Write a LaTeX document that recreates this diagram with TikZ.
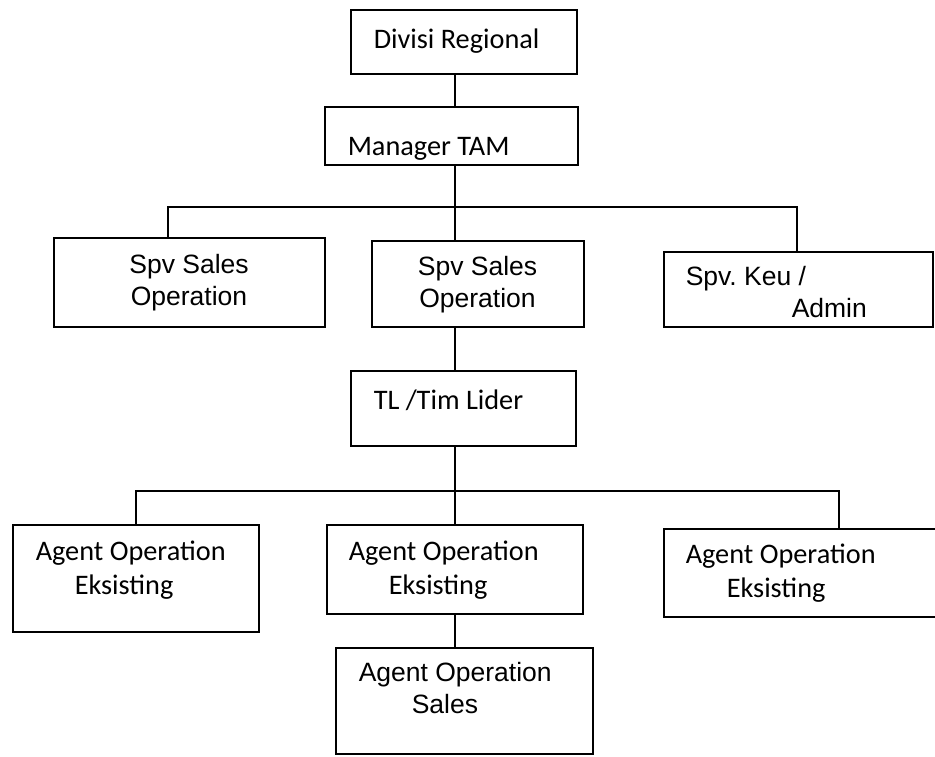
\documentclass[tikz,border=0pt]{standalone}
\usepackage{fontspec}
\newfontfamily\calibri{Carlito}
\newfontfamily\arial{Liberation Sans}
\usetikzlibrary{positioning}

\begin{document}
\begin{tikzpicture}[x=1pt, y=-1pt, line width=1.5pt,
  box/.style={draw, rectangle, inner sep=0pt},
  cal/.style={font=\calibri\fontsize{28.3}{33.5}\selectfont, inner sep=0pt, align=left, anchor=base west},
  ari/.style={font=\arial\fontsize{26.5}{32}\selectfont, inner sep=0pt, align=left, anchor=base west}]
\useasboundingbox (0,0) rectangle (935,756);
% ---------------- boxes ----------------
\node[box, minimum width=226pt, minimum height=64pt] (div) at (464,42) {};
\node[box, minimum width=253pt, minimum height=58pt] (mgr) at (451.5,136) {};
\node[box, minimum width=271pt, minimum height=89pt] (spvA) at (189.5,282.5) {};
\node[box, minimum width=212pt, minimum height=86pt] (spvB) at (478,284) {};
\node[box, minimum width=269pt, minimum height=75pt] (keu) at (798.5,289.5) {};
\node[box, minimum width=225pt, minimum height=75pt] (tl) at (463.5,408.5) {};
\node[box, minimum width=246pt, minimum height=107pt] (agA) at (136,578.5) {};
\node[box, minimum width=256pt, minimum height=89pt] (agB) at (455,569.5) {};
\node[box, minimum width=276pt, minimum height=88pt] (agC) at (802,573) {};
\node[box, minimum width=257pt, minimum height=106pt] (agS) at (464.5,701) {};
% ---------------- texts (base = last line) ----------------
\node[cal] (divtxt) at (373,48) {Divisi Regional};
\node[cal] (mgrtxt) at (347,155) {Manager TAM};
\node[ari, anchor=base, align=center] (spvAtxt) at (189,305) {Spv Sales\\Operation};
\node[ari, anchor=base, align=center] (spvBtxt) at (477.5,307) {Spv Sales\\Operation};
\node[ari] (keutxt) at (685,317) {Spv.\ Keu /\\\hspace*{106pt}Admin};
\node[cal] (tltxt) at (373,409) {TL /Tim Lider};
\node[cal] (agAtxt) at (35,594) {Agent Operation\\\hspace*{39pt}Eksisting};
\node[cal] (agBtxt) at (348,594) {Agent Operation\\\hspace*{40pt}Eksisting};
\node[cal] (agCtxt) at (685,597) {Agent Operation\\\hspace*{41pt}Eksisting};
\node[ari] (agStxt) at (358,713) {Agent Operation\\\hspace*{53pt}Sales};
% ---------------- connectors ----------------
\coordinate (trunk) at (455,207);
\coordinate (busA) at (168,207);
\coordinate (busC) at (797,207);
\coordinate (lowA) at (136,491);
\coordinate (lowC) at (839,491);
\draw (div.south -| trunk) -- (mgr.north -| trunk);
\draw (mgr.south -| trunk) -- (spvB.north -| trunk);
\draw (spvA.north -| busA) -- (busA) -- (busC) -- (keu.north -| busC);
\draw (spvB.south -| trunk) -- (tl.north -| trunk);
\draw (tl.south -| trunk) -- (agB.north -| trunk);
\draw (agA.north -| lowA) -- (lowA) -- (lowC) -- (agC.north -| lowC);
\draw (agB.south -| trunk) -- (agS.north -| trunk);
\end{tikzpicture}
\end{document}
